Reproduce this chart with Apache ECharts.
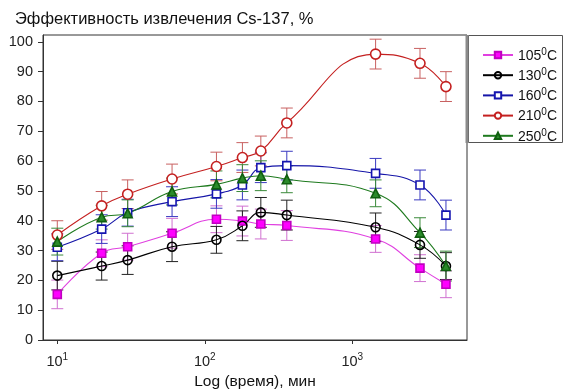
<!DOCTYPE html>
<html><head><meta charset="utf-8">
<script src="https://cdn.jsdelivr.net/npm/echarts@6/dist/echarts.min.js"></script>
<style>html,body{margin:0;padding:0;background:#fff}#c{width:564px;height:389px}</style>
</head><body><div id="c"></div>
<script>
// time, min
const times = [10, 20, 30, 60, 120, 180, 240, 360, 1440, 2880, 4320];
const seriesNames = ['105', '130', '160', '210', '250'];
// extraction efficiency, %
const v105 = [15.3, 29.1, 31.3, 35.8, 40.5, 39.9, 38.9, 38.4, 33.9, 24.1, 18.7];
const v130 = [21.6, 24.8, 26.8, 31.3, 33.6, 38.3, 42.8, 41.9, 37.8, 31.9, 24.8];
const v160 = [31.1, 37.2, 42.7, 46.4, 49.0, 52.0, 57.8, 58.5, 55.9, 52.0, 41.9];
const v210 = [35.2, 45.0, 48.9, 54.0, 58.2, 61.2, 63.4, 72.8, 95.9, 92.8, 85.0];
const v250 = [33.0, 41.2, 42.5, 49.8, 52.2, 54.3, 55.1, 53.9, 49.2, 36.0, 24.8];
// error bar half-heights
const e105 = [4.8, 4.5, 4.5, 5.0, 4.5, 5.0, 5.0, 5.0, 4.5, 4.5, 4.5];
const e130 = [4.8, 4.7, 4.8, 5.0, 4.5, 5.0, 5.0, 5.0, 4.8, 4.5, 4.5];
const e160 = [4.5, 4.8, 4.5, 5.0, 4.8, 5.0, 5.0, 4.8, 5.0, 5.0, 5.0];
const e210 = [4.8, 4.8, 4.8, 5.0, 4.8, 5.0, 5.0, 5.0, 5.0, 5.0, 5.0];
const e250 = [4.5, 4.0, 4.5, 4.5, 4.5, 4.5, 5.0, 4.5, 4.5, 5.0, 5.0];
const xTicks = [10, 100, 1000];
const xTickBase = ['10', '10', '10'];
const xTickExp = ['1', '2', '3'];
const yTicks = [0, 10, 20, 30, 40, 50, 60, 70, 80, 90, 100];

const values = [v105, v130, v160, v210, v250];
const errors = [e105, e130, e160, e210, e250];
const styles = [
  {line: '#e040e0', err: '#d070d0', symbol: 'rect', size: 8, fill: '#ff00ff', border: '#c000c0'},
  {line: '#000000', err: '#222222', symbol: 'circle', size: 9, fill: 'rgba(255,255,255,0)', border: '#000000'},
  {line: '#1515a8', err: '#3a3ac0', symbol: 'rect', size: 8, fill: '#ffffff', border: '#1515b0'},
  {line: '#c42020', err: '#c86060', symbol: 'circle', size: 10, fill: '#ffffff', border: '#c42020'},
  {line: '#1e7a1e', err: '#3a8a3a', symbol: 'triangle', size: 9, fill: '#2a8a2a', border: '#0f5f0f'}
];
const FONT = 'Liberation Sans, Arial, sans-serif';

const series = [];
seriesNames.forEach((n, i) => {
  const st = styles[i];
  series.push({
    type: 'custom', name: n + '_err', z: 1, silent: true,
    data: times.map((t, k) => [t, values[i][k], errors[i][k]]),
    encode: {x: 0, y: 1},
    renderItem: function (params, api) {
      const x = api.value(0), y = api.value(1), e = api.value(2);
      const top = api.coord([x, y + e]), bot = api.coord([x, y - e]);
      const hw = 6;
      const s = {stroke: st.err, lineWidth: 1};
      return {type: 'group', children: [
        {type: 'line', shape: {x1: top[0], y1: top[1], x2: bot[0], y2: bot[1]}, style: s},
        {type: 'line', shape: {x1: top[0] - hw, y1: top[1], x2: top[0] + hw, y2: top[1]}, style: s},
        {type: 'line', shape: {x1: bot[0] - hw, y1: bot[1], x2: bot[0] + hw, y2: bot[1]}, style: s}
      ]};
    }
  });
});
seriesNames.forEach((n, i) => {
  const st = styles[i];
  series.push({
    type: 'line', name: n, z: 3, smooth: 0.45,
    data: times.map((t, k) => [t, values[i][k]]),
    symbol: st.symbol, symbolSize: st.size, showAllSymbol: true,
    lineStyle: {color: st.line, width: 1.1},
    itemStyle: {color: st.fill, borderColor: st.border, borderWidth: 1.6}
  });
});

const chart = echarts.init(document.getElementById('c'), null, {renderer: 'canvas'});
chart.setOption({
  animation: false,
  backgroundColor: '#ffffff',
  title: {
    text: 'Эффективность извлечения Cs-137, %', left: 10, top: 6,
    textStyle: {fontFamily: FONT, fontSize: 16.5, fontWeight: 'normal', color: '#111'}
  },
  grid: {left: 43, top: 35, right: 97, bottom: 49, containLabel: false, outerBoundsMode: 'none',
    show: true, borderColor: '#333', borderWidth: 1, backgroundColor: 'transparent'},
  xAxis: {
    type: 'log', logBase: 10, min: 8, max: 6000,
    name: 'Log (время), мин', nameLocation: 'middle', nameGap: 32,
    nameTextStyle: {fontFamily: FONT, fontSize: 15.5, color: '#111'},
    axisLine: {lineStyle: {color: '#333'}},
    axisTick: {length: 4, customValues: xTicks, lineStyle: {color: '#333'}},
    axisLabel: {customValues: xTicks, margin: 12, fontFamily: FONT, fontSize: 14.5, color: '#222',
      formatter: v => { const k = xTicks.indexOf(Math.round(v)); return k >= 0 ? '{b|' + xTickBase[k] + '}{e|' + xTickExp[k] + '}' : ''; },
      rich: {b: {fontFamily: FONT, fontSize: 14.5, color: '#222', lineHeight: 17, verticalAlign: 'bottom'},
             e: {fontFamily: FONT, fontSize: 10, color: '#222', lineHeight: 17, verticalAlign: 'top'}}},
    splitLine: {show: false}, minorTick: {show: false}
  },
  yAxis: {
    type: 'value', min: 0, max: 102.3,
    axisLine: {show: true, lineStyle: {color: '#333'}},
    axisTick: {show: true, length: 5, customValues: yTicks, lineStyle: {color: '#333'}},
    axisLabel: {customValues: yTicks, margin: 10, fontFamily: FONT, fontSize: 14.5, color: '#222'},
    splitLine: {show: false}
  },
  legend: {
    data: seriesNames, orient: 'vertical', left: 477, top: 42, itemGap: 4.2,
    itemWidth: 30, itemHeight: 8,
    formatter: n => '{a|' + n + '}{s|0}{a|C}',
    textStyle: {fontFamily: FONT, fontSize: 14, color: '#111',
      rich: {a: {fontFamily: FONT, fontSize: 14, color: '#111', lineHeight: 16, verticalAlign: 'bottom'},
             s: {fontFamily: FONT, fontSize: 10, color: '#111', lineHeight: 16, verticalAlign: 'top'}}}
  },
  graphic: [
    {type: 'rect', shape: {x: 468.5, y: 35.5, width: 94, height: 107}, style: {fill: 'none', stroke: '#555', lineWidth: 1}, z: 0},
    {type: 'rect', shape: {x: 465.5, y: 35, width: 3, height: 108}, style: {fill: '#8a8a8a'}, z: 10}
  ],
  series: series
});
</script></body></html>
